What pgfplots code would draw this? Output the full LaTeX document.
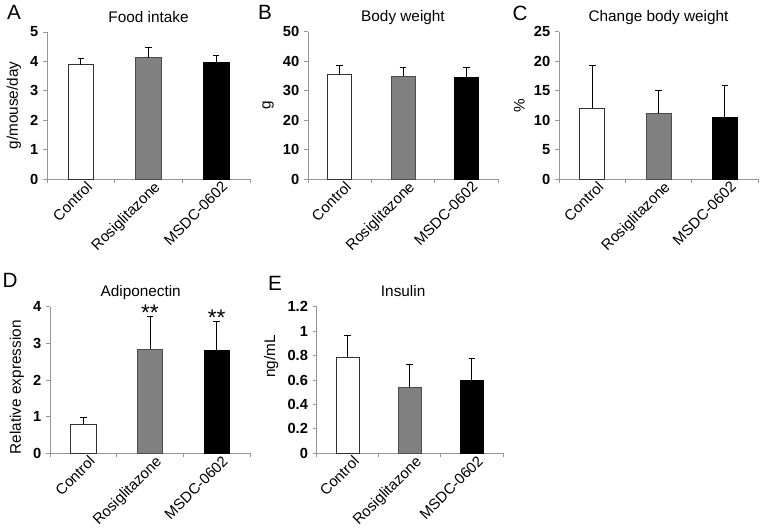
\documentclass[border=0pt]{standalone}
\usepackage{fontspec}
\setmainfont{Liberation Sans}
\usepackage{pgfplots}
\pgfplotsset{compat=1.18}
\definecolor{bargray}{RGB}{128,128,128}
\definecolor{axgray}{RGB}{150,150,150}
\pgfplotsset{
  panel/.style={
    scale only axis,
    axis x line*=bottom, axis y line*=left,
    axis line style={draw=axgray, line width=0.6pt},
    ymin=0, xmin=-0.5, xmax=2.5, enlargelimits=false, clip=false,
    xtick={0,1,2}, xticklabels={Control,Rosiglitazone,MSDC-0602},
    x tick label style={rotate=45, anchor=north east, font=\fontsize{11.2}{12}\selectfont, inner sep=1pt, xshift=5pt},
    y tick label style={font=\bfseries\fontsize{11}{12}\selectfont},
    /pgf/number format/assume math mode=true,
    tick align=outside, major tick length=3pt,
    ytick style={draw=axgray, line width=0.6pt},
    xtick style={draw=none},
    extra x ticks={-0.5,0.5,1.5,2.5}, extra x tick labels={},
    extra x tick style={xtick style={draw=axgray, line width=0.6pt}},
    title style={font=\fontsize{11.5}{13}\selectfont, anchor=base, at={(0.5,1)}, yshift=1.5pt},
    ylabel style={font=\fontsize{11.5}{13}\selectfont},
  },
  barw/.style={ybar, bar shift=0pt, bar width=0.38, line width=0.6pt,
    error bars/y dir=plus, error bars/y explicit,
    error bars/error bar style={black, line width=0.6pt},
    error bars/error mark options={black, rotate=90, mark size=2.5pt, line width=0.6pt}},
}
\begin{document}
\begin{tikzpicture}
\useasboundingbox (0,0) rectangle (573pt,396pt);
% Panel A
\begin{axis}[panel, at={(35.25pt,261.75pt)}, anchor=south west, width=152.25pt, height=110.25pt,
  ymax=5, ytick={0,1,2,3,4,5}, yticklabels={\textbf{0},\textbf{1},\textbf{2},\textbf{3},\textbf{4},\textbf{5}},
  title={Food intake}, ylabel={g/mouse/day}]
\addplot[barw, fill=white, draw=black!80] coordinates {(0,3.89) +- (0,0.21)};
\addplot[barw, fill=bargray, draw=black!70] coordinates {(1,4.12) +- (0,0.34)};
\addplot[barw, fill=black, draw=black] coordinates {(2,3.98) +- (0,0.23)};
\end{axis}
% Panel B
\begin{axis}[panel, at={(231pt,261.75pt)}, anchor=south west, width=142.5pt, height=110.5pt,
  ymax=50, ytick={0,10,20,30,40,50}, yticklabels={\textbf{0},\textbf{10},\textbf{20},\textbf{30},\textbf{40},\textbf{50}},
  title={Body weight}, ylabel={g}]
\addplot[barw, fill=white, draw=black!80] coordinates {(0,35.4) +- (0,3.1)};
\addplot[barw, fill=bargray, draw=black!70] coordinates {(1,34.95) +- (0,3.05)};
\addplot[barw, fill=black, draw=black] coordinates {(2,34.4) +- (0,3.6)};
\end{axis}
% Panel C
\begin{axis}[panel, at={(419.25pt,261.75pt)}, anchor=south west, width=149.25pt, height=110.5pt,
  ymax=25, ytick={0,5,10,15,20,25}, yticklabels={\textbf{0},\textbf{5},\textbf{10},\textbf{15},\textbf{20},\textbf{25}},
  title={Change body weight}, ylabel={\%}]
\addplot[barw, fill=white, draw=black!80] coordinates {(0,12.0) +- (0,7.3)};
\addplot[barw, fill=bargray, draw=black!70] coordinates {(1,11.1) +- (0,4.0)};
\addplot[barw, fill=black, draw=black] coordinates {(2,10.5) +- (0,5.3)};
\end{axis}
% Panel D
\begin{axis}[panel, at={(37.5pt,56pt)}, anchor=south west, width=150pt, height=110pt,
  ymax=4, ytick={0,1,2,3,4}, yticklabels={\textbf{0},\textbf{1},\textbf{2},\textbf{3},\textbf{4}},
  title={Adiponectin}, title style={xshift=-7pt}, ylabel={Relative expression},
  ylabel style={at={(ticklabel cs:0.45)}}]
\addplot[barw, fill=white, draw=black!80] coordinates {(0,0.79) +- (0,0.18)};
\addplot[barw, fill=bargray, draw=black!70] coordinates {(1,2.84) +- (0,0.89)};
\addplot[barw, fill=black, draw=black] coordinates {(2,2.82) +- (0,0.77)};
\addplot[draw=none, mark=none, nodes near coords={**},
  every node near coord/.style={anchor=base, yshift=-3pt, font=\fontsize{17}{17}\selectfont}]
  coordinates {(1,3.73) (2,3.59)};
\end{axis}
% Panel E
\begin{axis}[panel, at={(237.5pt,56pt)}, anchor=south west, width=139.7pt, height=110pt,
  ymax=1.2, ytick={0,0.2,0.4,0.6,0.8,1,1.2},
  yticklabels={\textbf{0},\textbf{0.2},\textbf{0.4},\textbf{0.6},\textbf{0.8},\textbf{1},\textbf{1.2}},
  title={Insulin}, title style={xshift=-5pt}, ylabel={ng/mL}, ylabel style={at={(ticklabel cs:0.66)}}]
\addplot[barw, fill=white, draw=black!80] coordinates {(0,0.786) +- (0,0.182)};
\addplot[barw, fill=bargray, draw=black!70] coordinates {(1,0.54) +- (0,0.188)};
\addplot[barw, fill=black, draw=black] coordinates {(2,0.60) +- (0,0.177)};
\end{axis}
% panel letters
\node[font=\fontsize{15.5}{16}\selectfont] at (10.5pt,386.6pt) {A};
\node[font=\fontsize{15.5}{16}\selectfont] at (198.75pt,387pt) {B};
\node[font=\fontsize{15.5}{16}\selectfont] at (390pt,386.25pt) {C};
\node[font=\fontsize{15.5}{16}\selectfont] at (7.5pt,185.6pt) {D};
\node[font=\fontsize{15.5}{16}\selectfont] at (206.25pt,183.75pt) {E};
\end{tikzpicture}
\end{document}
